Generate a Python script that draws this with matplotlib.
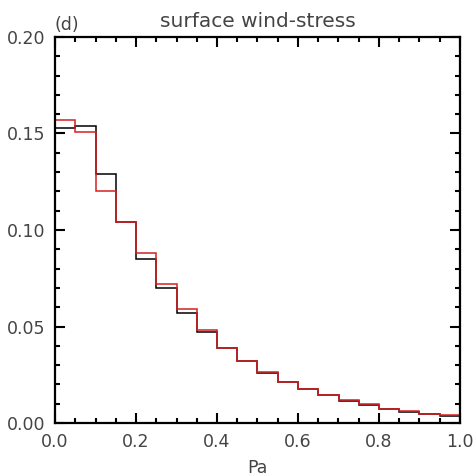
import numpy as np
import matplotlib
matplotlib.use('Agg')
import matplotlib.pyplot as plt
from matplotlib.ticker import MultipleLocator, FormatStrFormatter

# bin edges (Pa) and fraction per bin
edges = np.linspace(0.0, 1.0, 21)
black_vals = [0.153, 0.154, 0.129, 0.104, 0.085, 0.070, 0.057, 0.047, 0.039, 0.032,
              0.026, 0.021, 0.0175, 0.0143, 0.0116, 0.0094, 0.0073, 0.0058, 0.0047, 0.0037]
red_vals = [0.157, 0.151, 0.120, 0.104, 0.088, 0.072, 0.059, 0.048, 0.039, 0.032,
            0.0265, 0.0215, 0.0177, 0.0146, 0.0118, 0.0096, 0.0074, 0.0060, 0.0049, 0.0039]

title = 'surface wind-stress'
panel = '(d)'
xlabel = 'Pa'

txt = '#444444'

fig = plt.figure(figsize=(4.77, 4.76), dpi=100)
ax = fig.add_axes([55 / 477, 1 - 423 / 476, 405 / 477, 386 / 476])

ax.stairs(black_vals, edges, color='black', linewidth=1.1)
ax.stairs(red_vals, edges, color='#d42020', linewidth=1.1)

ax.set_xlim(0, 1.0)
ax.set_ylim(0, 0.20)
ax.xaxis.set_major_locator(MultipleLocator(0.2))
ax.xaxis.set_minor_locator(MultipleLocator(0.05))
ax.yaxis.set_major_locator(MultipleLocator(0.05))
ax.yaxis.set_minor_locator(MultipleLocator(0.01))
ax.xaxis.set_major_formatter(FormatStrFormatter('%.1f'))
ax.yaxis.set_major_formatter(FormatStrFormatter('%.2f'))

ax.tick_params(which='both', direction='in', top=True, right=True, width=1.5, colors='black',
               labelcolor=txt, labelsize=12.5)
ax.tick_params(which='major', length=7, pad=7)
ax.tick_params(which='minor', length=3.5)
for s in ax.spines.values():
    s.set_linewidth(1.6)

ax.set_title(title, fontsize=14.5, color=txt, pad=7)
ax.text(0.0, 1.008, panel, transform=ax.transAxes, fontsize=12.5, color=txt,
        ha='left', va='bottom')
ax.set_xlabel(xlabel, fontsize=12.5, color=txt, labelpad=6)

fig.savefig('out.png', dpi=100)
